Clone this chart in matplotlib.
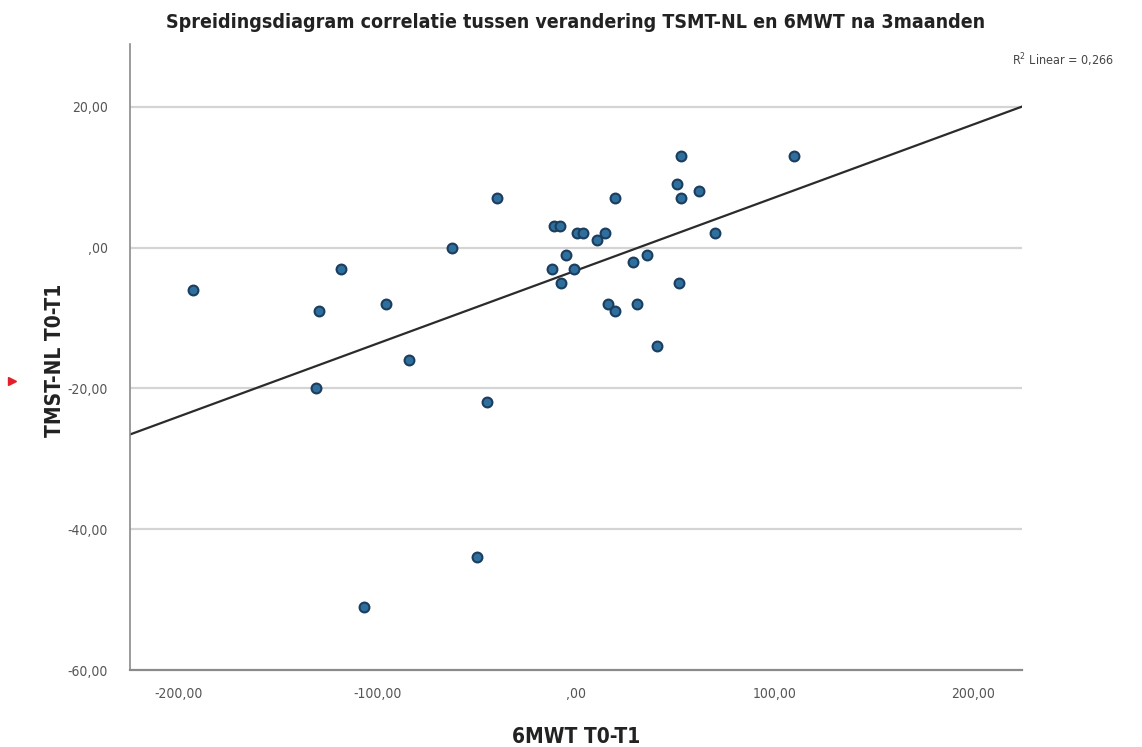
import numpy as np
import matplotlib
matplotlib.use("Agg")
import matplotlib.pyplot as plt
from matplotlib.lines import Line2D

plt.rcParams['font.family'] = ['DejaVu Sans']
plt.rcParams['font.stretch'] = 'condensed'

# Data: change in 6MWT (x) and TMST-NL (y), T0-T1
x_6mwt = [-193, -129.5, -118.4, -131, -95.7, -84, -62.5, -40, -45, -50, -107,
          -11, -8, 0.3, 3.7, 10.4, 14.6, 19.6, -5, -11.9, -0.8, -7.7,
          28.7, 35.6, 16.3, 19.6, 30.6, 40.6, 51.9, 52.9, 50.7, 52.9,
          62.1, 70, 109.8]
y_tmst = [-6, -9, -3, -20, -8, -16, 0, 7, -22, -44, -51,
          3, 3, 2, 2, 1, 2, 7, -1, -3, -3, -5,
          -2, -1, -8, -9, -8, -14, -5, 13, 9, 7,
          8, 2, 13]

x_ticks = [-200, -100, 0, 100, 200]
x_tick_labels = ["-200,00", "-100,00", ",00", "100,00", "200,00"]
y_ticks = [20, 0, -20, -40, -60]
y_tick_labels = ["20,00", ",00", "-20,00", "-40,00", "-60,00"]

title = "Spreidingsdiagram correlatie tussen verandering TSMT-NL en 6MWT na 3maanden"
x_label = "6MWT T0-T1"
y_label = "TMST-NL T0-T1"
r2_text = "R$^2$ Linear = 0,266"

W, H = 1142, 747
fig = plt.figure(figsize=(W / 100, H / 100), dpi=100)
ax = fig.add_axes([130 / W, 1 - 670 / H, (1022 - 130) / W, (670 - 44) / H])

xmin, xmax = -224.7, 224.7
ymin, ymax = -60, 28.9
ax.set_xlim(xmin, xmax)
ax.set_ylim(ymin, ymax)

for yv in [20, 0, -20, -40]:
    ax.axhline(yv, color='#d4d4d4', lw=1.6, zorder=1)

# Fit line
slope, intercept = np.polyfit(x_6mwt, y_tmst, 1)
xs = np.array([xmin, xmax])
ax.plot(xs, slope * xs + intercept, color='#2b2b2b', lw=1.6, zorder=2)

ax.scatter(x_6mwt, y_tmst, s=50, facecolor='#2e6f9e', edgecolor='#1b3d5e',
           linewidth=1.5, zorder=3)

for s in ['top', 'right']:
    ax.spines[s].set_visible(False)
ax.spines['left'].set_color('#8a8a8a')
ax.spines['bottom'].set_color('#8a8a8a')
ax.spines['left'].set_linewidth(1.2)
ax.spines['bottom'].set_linewidth(1.6)

ax.set_xticks(x_ticks)
ax.set_xticklabels(x_tick_labels)
ax.set_yticks(y_ticks)
ax.set_yticklabels(y_tick_labels)
ax.tick_params(axis='both', length=0, labelsize=10, colors='#555555')
ax.tick_params(axis='y', pad=16)
ax.tick_params(axis='x', pad=12)

fig.text(576 / W, 1 - 22 / H, title, ha='center', va='center', fontsize=14,
         fontweight='bold', color='#222222')
fig.text(576 / W, 1 - 737 / H, x_label, ha='center', va='center', fontsize=15,
         fontweight='bold', color='#222222')
fig.text(55 / W, 1 - 360 / H, y_label, ha='center', va='center', fontsize=15,
         fontweight='bold', color='#222222', rotation=90)
fig.text(1063 / W, 1 - 60 / H, r2_text, ha='center', va='center', fontsize=9,
         color='#444444')

fig.add_artist(Line2D([12 / W], [1 - 381 / H], marker='>', color='#e0202a',
                      markersize=6, transform=fig.transFigure))

fig.savefig("out.png", dpi=100)
